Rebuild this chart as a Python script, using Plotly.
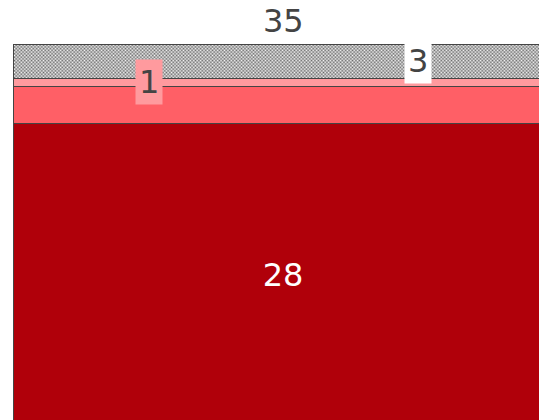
import plotly.graph_objects as go

# Data
category = ["Total"]
series_names = ["Segment A", "Segment B", "Segment C", "Segment D"]
series_values = [28, 3.4, 0.7, 3.2]
series_labels = ["28", "", "1", "3"]
total_label = "35"

colors = ["#b0000a", "#ff5f66", "#ff9a9e", "#ffffff"]
FONT = "DejaVu Sans"

fig = go.Figure()
xpos = [0]
for i, (name, val) in enumerate(zip(series_names, series_values)):
    marker = dict(color=colors[i], line=dict(color="#444444", width=1))
    if i == 3:
        marker["pattern"] = dict(shape="/", size=1, solidity=0.6,
                                 fgcolor="#444444", bgcolor="#ffffff", fillmode="replace")
    fig.add_trace(go.Bar(
        x=xpos, y=[val], width=1, name=name,
        marker=marker,
        text=[series_labels[i]] if i == 0 else None,
        textposition="inside" if i == 0 else "none",
        insidetextanchor="middle",
        textfont=dict(color="white", size=32, family=FONT),
        hoverinfo="skip",
    ))

cum = [sum(series_values[:i + 1]) for i in range(len(series_values))]
total = cum[-1]

# labels with background boxes
fig.add_annotation(x=-0.25, y=cum[1] + 0.35, text=series_labels[2], showarrow=False,
                   bgcolor=colors[2], borderpad=3,
                   font=dict(size=32, color="#444444", family=FONT))
fig.add_annotation(x=0.25, y=cum[2] + 1.63, text=series_labels[3], showarrow=False,
                   bgcolor="#ffffff", borderpad=3,
                   font=dict(size=32, color="#444444", family=FONT))
fig.add_annotation(x=0, y=total + 2.13, text=total_label, showarrow=False,
                   font=dict(size=32, color="#444444", family=FONT))

fig.update_layout(
    width=539, height=420,
    margin=dict(l=0, r=0, t=0, b=0),
    barmode="stack",
    showlegend=False,
    hovermode=False,
    plot_bgcolor="white", paper_bgcolor="white",
    xaxis=dict(range=[-0.526, 0.4758], visible=False),
    yaxis=dict(range=[0.555, 39.37], visible=False),
)

fig.write_html(
    "out.html",
    config={"displayModeBar": False, "staticPlot": True},
    post_script="document.body.style.margin='0';document.body.style.overflow='hidden';",
)
